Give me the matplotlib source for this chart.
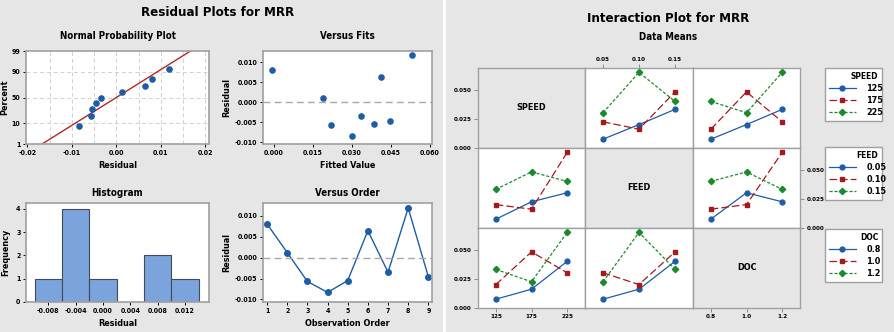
from statistics import NormalDist

import numpy as np
import matplotlib.pyplot as plt
from matplotlib.lines import Line2D
from matplotlib.ticker import FormatStrFormatter

W, H = 894, 332
BG = "#e6e6e6"
BLUE = "#1f5ca6"
RED = "#a3191e"
GREEN = "#1b8a2e"
SPINE = "#a0a0a0"

# residual data (observation order)
observation = [1, 2, 3, 4, 5, 6, 7, 8, 9]
residuals = [0.0080, 0.0012, -0.0057, -0.0083, -0.0055, 0.0064, -0.0035, 0.0118, -0.0046]
fitted = [-0.0008, 0.0190, 0.0220, 0.0303, 0.0384, 0.0414, 0.0334, 0.0532, 0.0446]
prob_percent = [7.4, 18.1, 28.7, 39.4, 50.0, 60.6, 71.3, 81.9, 92.6]
hist_bins = [-0.010, -0.006, -0.002, 0.002, 0.006, 0.010, 0.014]

# L9 runs for the interaction plot
run_speed = [125, 125, 125, 175, 175, 175, 225, 225, 225]
run_feed = [0.05, 0.10, 0.15, 0.05, 0.10, 0.15, 0.05, 0.10, 0.15]
run_doc = [0.8, 1.0, 1.2, 1.2, 0.8, 1.0, 1.0, 1.2, 0.8]
run_mrr = [0.0076, 0.0202, 0.0333, 0.0226, 0.0162, 0.0484, 0.0304, 0.0652, 0.0402]

speed_levels = [125, 175, 225]
feed_levels = [0.05, 0.10, 0.15]
doc_levels = [0.8, 1.0, 1.2]
speed_labels = ["125", "175", "225"]
feed_labels = ["0.05", "0.10", "0.15"]
doc_labels = ["0.8", "1.0", "1.2"]

plt.rcParams["font.family"] = "DejaVu Sans"
plt.rcParams["font.stretch"] = "condensed"
plt.rcParams["font.weight"] = "bold"
plt.rcParams["axes.labelweight"] = "bold"
plt.rcParams["axes.titleweight"] = "bold"


def px_axes(fig, x0, y0, x1, y1):
    return fig.add_axes([x0 / W, 1 - y1 / H, (x1 - x0) / W, (y1 - y0) / H])


def style_axes(ax, size=5):
    for s in ax.spines.values():
        s.set_color(SPINE)
        s.set_linewidth(1.2)
    ax.tick_params(labelsize=size, length=2.5, width=0.7, pad=1.5)


fig = plt.figure(figsize=(W / 100, H / 100), dpi=100, facecolor=BG)
fig.add_artist(Line2D([444 / W, 444 / W], [0, 1], color="white", lw=2, transform=fig.transFigure))

fig.text(218 / W, 1 - 12 / H, "Residual Plots for MRR", ha="center", va="center", fontsize=9.5)

# normal probability plot
nd = NormalDist()
z = [nd.inv_cdf(p / 100) for p in prob_percent]
ax = px_axes(fig, 26, 51, 209, 144)
style_axes(ax)
ax.scatter(sorted(residuals), z, s=14, color=BLUE, zorder=3)
mu, sd = np.mean(residuals), np.std(residuals, ddof=1)
zz = np.array([nd.inv_cdf(0.001), nd.inv_cdf(0.999)])
ax.plot(mu + sd * zz, zz, color="#b0282d", lw=1)
ax.set_xlim(-0.0203, 0.0208)
ax.set_ylim(nd.inv_cdf(0.01), nd.inv_cdf(0.99))
ax.set_xticks([-0.02, -0.01, 0.0, 0.01, 0.02])
ax.xaxis.set_major_formatter(FormatStrFormatter("%.2f"))
ax.set_yticks([nd.inv_cdf(p / 100) for p in [1, 10, 50, 90, 99]])
ax.set_yticklabels(["1", "10", "50", "90", "99"])
for gx in np.arange(-0.015, 0.02, 0.005):
    ax.axvline(gx, color="#d0d0d0", ls=(0, (4, 3)), lw=0.7, zorder=0)
for gy in [10, 50, 90]:
    ax.axhline(nd.inv_cdf(gy / 100), color="#d0d0d0", ls=(0, (4, 3)), lw=0.7, zorder=0)
ax.set_title("Normal Probability Plot", fontsize=7, pad=9)
ax.set_xlabel("Residual", fontsize=6.5, labelpad=4)
ax.set_ylabel("Percent", fontsize=6.5, labelpad=2)

# versus fits
ax = px_axes(fig, 263, 51, 432, 144)
style_axes(ax)
ax.scatter(fitted, residuals, s=14, color=BLUE, zorder=3)
ax.axhline(0, color="#a8a8a8", ls=(0, (5, 3)), lw=1)
ax.set_xlim(-0.0041, 0.0609)
ax.set_ylim(-0.0104, 0.0128)
ax.set_xticks([0.0, 0.015, 0.030, 0.045, 0.060])
ax.set_yticks([-0.010, -0.005, 0.0, 0.005, 0.010])
ax.xaxis.set_major_formatter(FormatStrFormatter("%.3f"))
ax.yaxis.set_major_formatter(FormatStrFormatter("%.3f"))
ax.set_title("Versus Fits", fontsize=7, pad=9)
ax.set_xlabel("Fitted Value", fontsize=6.5, labelpad=4)
ax.set_ylabel("Residual", fontsize=6.5, labelpad=3)

# histogram
ax = px_axes(fig, 26, 203, 209, 302)
style_axes(ax)
ax.hist(residuals, bins=hist_bins, color="#7ba4dc", edgecolor="#404a5a", linewidth=0.8)
ax.set_xlim(-0.01126, 0.0155)
ax.set_ylim(0, 4.25)
ax.set_xticks([-0.008, -0.004, 0.0, 0.004, 0.008, 0.012])
ax.xaxis.set_major_formatter(FormatStrFormatter("%.3f"))
ax.set_yticks([0, 1, 2, 3, 4])
ax.set_title("Histogram", fontsize=7, pad=5)
ax.set_xlabel("Residual", fontsize=6.5, labelpad=4)
ax.set_ylabel("Frequency", fontsize=6.5, labelpad=4)

# versus order
ax = px_axes(fig, 263, 203, 432, 302)
style_axes(ax)
ax.plot(observation, residuals, color=BLUE, lw=1, marker="o", ms=4)
ax.axhline(0, color="#a8a8a8", ls=(0, (5, 3)), lw=1)
ax.set_xlim(0.8, 9.18)
ax.set_ylim(-0.0106, 0.013)
ax.set_xticks(observation)
ax.set_yticks([-0.010, -0.005, 0.0, 0.005, 0.010])
ax.yaxis.set_major_formatter(FormatStrFormatter("%.3f"))
ax.set_title("Versus Order", fontsize=7, pad=5)
ax.set_xlabel("Observation Order", fontsize=6.5, labelpad=4)
ax.set_ylabel("Residual", fontsize=6.5, labelpad=3)

# interaction plot
fig.text(668 / W, 1 - 19 / H, "Interaction Plot for MRR", ha="center", va="center", fontsize=9.5)
fig.text(668 / W, 1 - 37 / H, "Data Means", ha="center", va="center", fontsize=7)

factors = [
    ("SPEED", np.array(run_speed), speed_levels, speed_labels),
    ("FEED", np.array(run_feed), feed_levels, feed_labels),
    ("DOC", np.array(run_doc), doc_levels, doc_labels),
]
mrr = np.array(run_mrr)
trace_styles = [
    dict(color=BLUE, ls="-", marker="o", ms=3.5),
    dict(color=RED, ls=(0, (6, 2.5)), marker="s", ms=3.5),
    dict(color=GREEN, ls=(0, (2.5, 1.5)), marker="D", ms=3.2),
]
col_px = [478, 585, 693, 800]
row_px = [68, 148, 228, 308]
yt = [0.0, 0.025, 0.050]

for i in range(3):
    for j in range(3):
        ax = px_axes(fig, col_px[j], row_px[i], col_px[j + 1], row_px[i + 1])
        for s in ax.spines.values():
            s.set_color(SPINE)
            s.set_linewidth(1)
        ax.set_xlim(-0.5, 2.5)
        ax.set_ylim(0, 0.069)
        ax.set_xticks([])
        ax.set_yticks([])
        ax.tick_params(labelsize=4.5, length=3, width=0.6, color="#808080", pad=1.5)
        if i == j:
            ax.set_facecolor(BG)
            ax.text(0.5, 0.5, factors[i][0], transform=ax.transAxes, ha="center", va="center", fontsize=6.5)
        else:
            _, fi, li, _ = factors[i]
            _, fj, lj, _ = factors[j]
            for k, lev in enumerate(li):
                means = [mrr[np.isclose(fi, lev) & np.isclose(fj, v)].mean() for v in lj]
                ax.plot(range(3), means, lw=0.9, **trace_styles[k])
        if j == 0 and i in (0, 2):
            ax.set_yticks(yt)
            ax.yaxis.set_major_formatter(FormatStrFormatter("%.3f"))
        if i == 1 and j == 2:
            ax.yaxis.tick_right()
            ax.set_yticks(yt)
            ax.yaxis.set_major_formatter(FormatStrFormatter("%.3f"))
        if i == 0 and j == 1:
            ax.xaxis.tick_top()
            ax.set_xticks(range(3))
            ax.set_xticklabels(factors[1][3])
        if i == 2 and j in (0, 2):
            ax.set_xticks(range(3))
            ax.set_xticklabels(factors[j][3])

leg_top = [68, 147, 229]
for (name, _, levels, labels), top in zip(factors, leg_top):
    handles = [Line2D([], [], lw=0.9, **st) for st in trace_styles]
    fig.legend(handles, labels, title=name, loc="upper left",
               bbox_to_anchor=(825 / W, 1 - (top + 53) / H, 57 / W, 53 / H), mode="expand",
               borderaxespad=0, fontsize=6.5, title_fontsize=6, alignment="right",
               fancybox=False, edgecolor=SPINE, framealpha=1, handlelength=3,
               labelspacing=0.35, borderpad=0.4, handletextpad=1.2)

fig.savefig("out.png", dpi=100, facecolor=BG)
